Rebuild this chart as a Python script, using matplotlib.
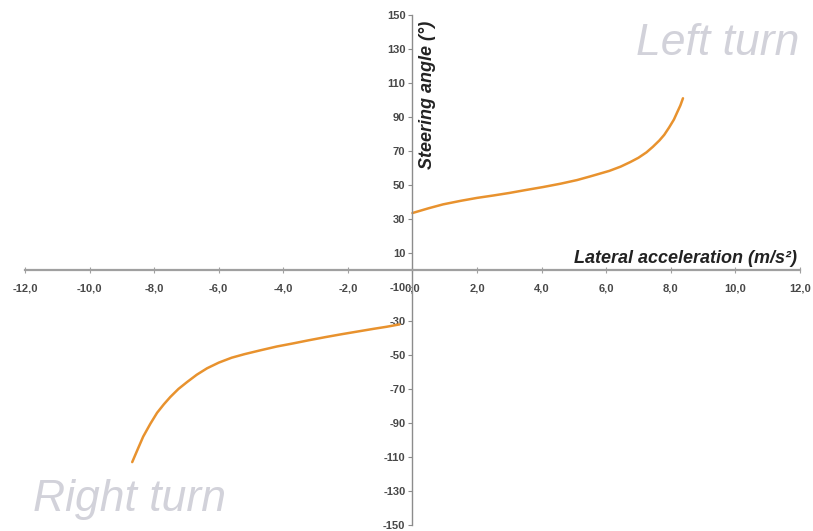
import numpy as np
import matplotlib.pyplot as plt

# steering angle vs lateral acceleration
left_acc = [0.0, 0.5, 0.95, 1.5, 2.0, 2.5, 3.0, 3.5, 4.05, 4.6, 5.1, 5.5,
            6.1, 6.45, 6.75, 7.0, 7.25, 7.45, 7.65, 7.8, 7.95, 8.1, 8.2, 8.3, 8.38]
left_angle = [33.5, 36.3, 38.6, 40.7, 42.4, 43.8, 45.3, 47.0, 48.8, 50.8, 52.9, 55.0,
              58.3, 60.8, 63.5, 66.0, 69.2, 72.5, 76.2, 79.5, 83.8, 88.5, 92.7, 96.8, 101.0]
right_acc = [-8.68, -8.5, -8.34, -8.12, -7.91, -7.7, -7.5, -7.25, -6.98, -6.68,
             -6.36, -6.0, -5.6, -5.2, -4.7, -4.2, -3.7, -3.2, -2.7, -2.2, -1.7,
             -1.2, -0.8, -0.4]
right_angle = [-113.0, -105.0, -98.0, -90.5, -84.0, -79.0, -74.7, -70.0, -65.9, -61.6,
               -57.8, -54.5, -51.6, -49.5, -47.2, -45.0, -43.2, -41.3, -39.5, -37.8, -36.2,
               -34.6, -33.4, -32.0]

x_ticks = np.arange(-12, 12.1, 2)
y_ticks = np.arange(-150, 151, 20)

fig = plt.figure(figsize=(8.13, 5.31), dpi=100)
ax = fig.add_axes([0.0308, 0.0113, 0.953, 0.9605])

ax.plot(left_acc, left_angle, color='#e8922e', lw=1.8, solid_capstyle='round',
        solid_joinstyle='round')
ax.plot(right_acc, right_angle, color='#e8922e', lw=1.8, solid_capstyle='round',
        solid_joinstyle='round')

ax.set_xlim(-12, 12)
ax.set_ylim(-150, 150)

# axes through the origin
ax.spines['left'].set_position(('data', 0))
ax.spines['bottom'].set_position(('data', 0))
ax.spines['right'].set_visible(False)
ax.spines['top'].set_visible(False)
ax.spines['left'].set_color('#8c8c8c')
ax.spines['bottom'].set_color('#a0a0a0')
ax.spines['left'].set_linewidth(1.0)
ax.spines['bottom'].set_linewidth(1.6)

ax.set_xticks(x_ticks)
ax.set_xticklabels([f"{v:.1f}".replace('.', ',') for v in x_ticks])
ax.set_yticks(y_ticks)
ax.set_yticklabels([str(v) for v in y_ticks])

ax.tick_params(axis='x', direction='inout', length=4, width=0.8, color='#a0a0a0',
               labelsize=8, labelcolor='#484848', pad=8)
ax.tick_params(axis='y', direction='out', length=3, width=0.8, color='#8c8c8c',
               labelsize=8, labelcolor='#484848', pad=2)
for lab in ax.get_xticklabels() + ax.get_yticklabels():
    lab.set_fontweight('bold')
    lab.set_family('Liberation Sans')

ax.text(0.48, 103, 'Steering angle (°)', rotation=90, ha='center', va='center',
        fontsize=13, fontstyle='italic', fontweight='bold', color='#222222',
        family='Liberation Sans')
ax.text(11.9, 7, 'Lateral acceleration (m/s²)', ha='right', va='center',
        fontsize=13, fontstyle='italic', fontweight='bold', color='#222222',
        family='Liberation Sans')

ax.text(12, 133, 'Left turn', ha='right', va='center', fontsize=32,
        fontstyle='italic', color='#d2d2da', family='Liberation Sans')
ax.text(-11.75, -135, 'Right turn', ha='left', va='center', fontsize=32,
        fontstyle='italic', color='#d2d2da', family='Liberation Sans')

fig.savefig('out.png', dpi=100)
